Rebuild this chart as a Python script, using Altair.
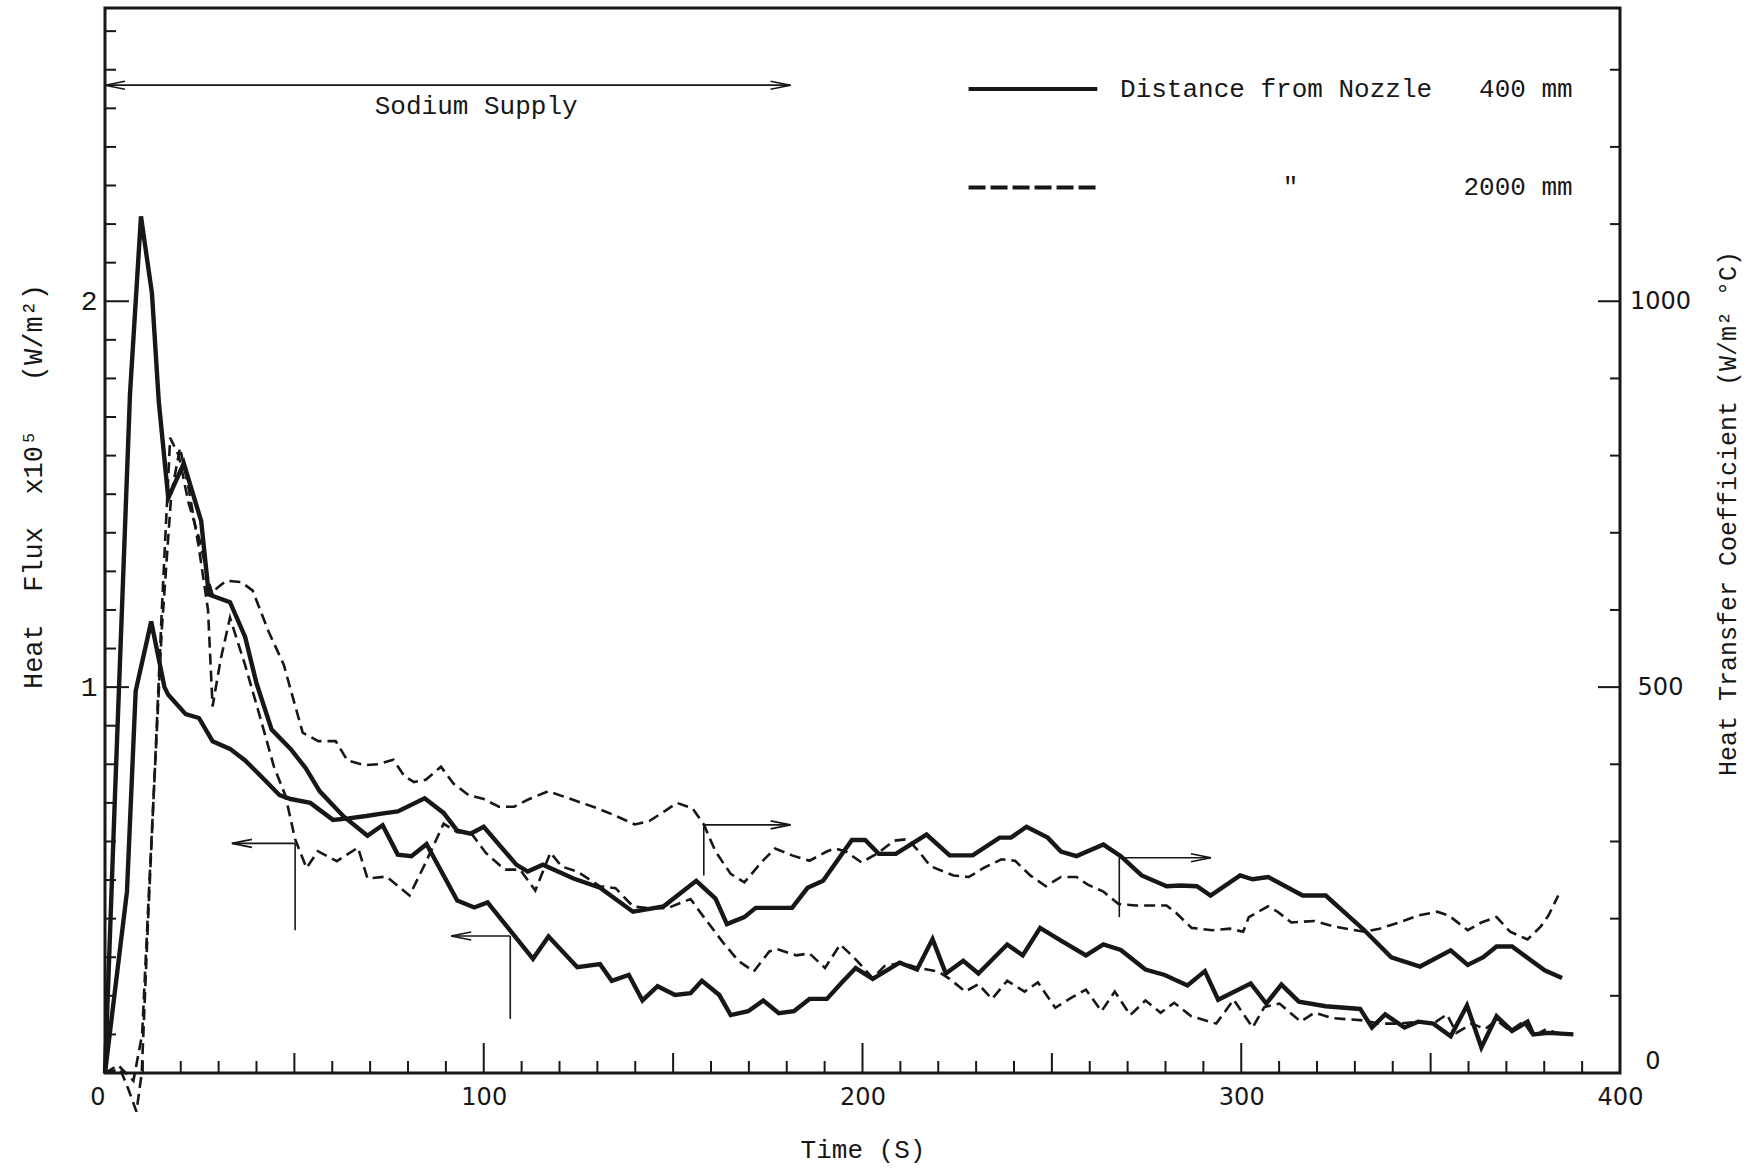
import altair as alt
import pandas as pd

# ---------------------------------------------------------------- data
# 400 mm from nozzle - heat flux (x10^5 W/m2)
T_Q400 = [0, 2.6, 6.6, 9.5, 12.4, 14.2, 16.7, 20.8, 25.4, 27.4, 33.0, 37.0, 40.0, 44.0, 49.0,
          53.0, 56.7, 63.0, 69.3, 73.3, 77.3, 80.9, 84.9, 93.0, 97.5, 101.0, 113.0, 117.1, 124.7,
          130.7, 133.8, 138.3, 141.9, 145.9, 150.5, 154.6, 157.6, 162.2, 165.2, 169.8, 173.8,
          177.9, 181.9, 186.0, 190.6, 194.6, 198.2, 202.7, 209.8, 214.4, 218.5, 222.0, 226.6,
          230.6, 238.2, 242.3, 246.9, 252.4, 259.0, 263.6, 268.2, 274.7, 279.8, 285.8, 290.4,
          293.9, 302.5, 306.6, 310.6, 315.2, 322.3, 331.4, 334.5, 338.0, 343.1, 346.7, 350.7,
          355.3, 359.6, 363.4, 367.4, 371.5, 375.6, 377.1, 381.1, 387.7]
Q_400 = [0, 0.71, 1.76, 2.22, 2.02, 1.74, 1.49, 1.58, 1.43, 1.24, 1.22, 1.13, 1.01, 0.89, 0.84,
         0.79, 0.73, 0.665, 0.615, 0.642, 0.566, 0.562, 0.593, 0.447, 0.429, 0.442, 0.296, 0.354,
         0.274, 0.282, 0.239, 0.254, 0.188, 0.225, 0.202, 0.207, 0.239, 0.202, 0.150, 0.160,
         0.188, 0.155, 0.160, 0.192, 0.192, 0.235, 0.272, 0.244, 0.286, 0.268, 0.347, 0.258,
         0.291, 0.258, 0.333, 0.305, 0.376, 0.343, 0.305, 0.333, 0.319, 0.268, 0.254, 0.227,
         0.264, 0.190, 0.232, 0.180, 0.229, 0.185, 0.173, 0.166, 0.118, 0.152, 0.118, 0.133,
         0.128, 0.095, 0.175, 0.066, 0.147, 0.109, 0.133, 0.100, 0.104, 0.100]

# 400 mm from nozzle - heat transfer coefficient (W/m2 C)
T_H400 = [0, 5.8, 8.1, 12.2, 15.7, 16.7, 21.3, 24.8, 28.4, 33.0, 37.0, 41.1, 46.1, 49.0, 54.2,
          60.2, 64.3, 69.0, 73.0, 77.3, 84.4, 89.4, 93.0, 96.5, 100.0, 108.6, 111.6, 115.6, 123.7,
          130.7, 139.4, 147.5, 156.1, 161.2, 164.2, 168.8, 171.8, 181.4, 185.5, 189.6, 197.2,
          200.7, 204.3, 208.8, 216.9, 223.0, 229.1, 236.2, 239.2, 243.3, 248.9, 252.4, 256.5,
          263.6, 268.2, 273.7, 280.3, 284.0, 288.3, 291.9, 299.7, 303.0, 307.1, 316.2, 322.3,
          332.5, 339.6, 347.2, 355.3, 359.8, 363.9, 367.4, 371.5, 380.1, 384.7]
H_400 = [0, 235, 495, 585, 500, 490, 465, 460, 430, 420, 405, 385, 360, 355, 350,
         328, 330, 333, 336, 339, 356, 337, 314, 310, 319, 270, 261, 270, 252,
         240, 209, 216, 249, 226, 193, 202, 214, 214, 240, 249, 302,
         302, 284, 284, 309, 282, 282, 305, 305, 319, 305, 287, 281,
         296, 281, 256, 242, 243, 242, 230, 256, 251, 254, 230, 230,
         185, 150, 138, 159, 140, 150, 164, 164, 133, 123]

# 2000 mm from nozzle - heat flux (x10^5 W/m2)
T_Q2000 = [0, 4.0, 6.1, 8.3, 9.7, 11.3, 12.9, 15.0, 17.5, 19.8, 22.0, 24.8, 27.2, 28.4, 30.5,
           33.0, 37.0, 41.1, 44.6, 47.6, 50.2, 53.2, 56.2, 61.2, 66.8, 69.3, 74.3, 80.4, 84.4,
           89.4, 93.0, 96.5, 100.5, 105.5, 109.6, 113.6, 117.6, 120.6, 124.7, 130.7, 134.8,
           139.4, 143.9, 148.5, 154.6, 158.1, 163.2, 167.2, 171.3, 175.4, 177.4, 182.5, 186.0,
           190.1, 194.1, 197.7, 202.7, 205.8, 210.3, 214.9, 220.0, 223.0, 227.1, 230.6, 234.2,
           238.2, 242.8, 246.3, 250.9, 255.5, 259.0, 263.1, 266.6, 270.7, 274.7, 278.7, 282.3,
           286.8, 293.4, 298.0, 303.0, 306.1, 310.1, 315.7, 319.3, 324.3, 331.4, 336.5, 341.6,
           346.7, 350.7, 354.3, 356.8, 360.9, 364.4, 367.4, 371.0, 374.5, 377.1, 380.6, 383.2,
           387.2]
Q_2000 = [0, 0.01, -0.04, -0.10, 0.0, 0.38, 0.73, 1.15, 1.50, 1.62, 1.52, 1.36, 1.20, 0.95, 1.07,
          1.18, 1.057, 0.917, 0.794, 0.72, 0.606, 0.531, 0.575, 0.549, 0.584, 0.504, 0.509, 0.46,
          0.54, 0.646, 0.624, 0.624, 0.571, 0.527, 0.527, 0.473, 0.571, 0.535, 0.522, 0.484,
          0.479, 0.432, 0.427, 0.427, 0.451, 0.404, 0.338, 0.291, 0.263, 0.315, 0.321, 0.305,
          0.31, 0.272, 0.333, 0.30, 0.246, 0.277, 0.286, 0.272, 0.263, 0.244, 0.211, 0.23, 0.192,
          0.239, 0.211, 0.235, 0.169, 0.197, 0.216, 0.16, 0.211, 0.15, 0.188, 0.156, 0.182,
          0.147, 0.128, 0.19, 0.118, 0.171, 0.18, 0.133, 0.156, 0.142, 0.137, 0.128, 0.128,
          0.133, 0.128, 0.152, 0.104, 0.128, 0.114, 0.137, 0.109, 0.133, 0.095, 0.114, 0.104,
          0.10]

# 2000 mm from nozzle - heat transfer coefficient (W/m2 C)
T_H2000 = [0, 3.5, 7.5, 9.8, 11.5, 13.0, 15.0, 17.2, 19.5, 22.0, 25.0, 27.5, 28.4, 29.5, 32.0,
           36.0, 39.0, 43.1, 47.2, 50.2, 52.2, 56.3, 60.9, 64.0, 68.5, 72.0, 76.1, 79.0, 81.6,
           84.7, 88.7, 92.0, 96.0, 100.0, 104.0, 108.0, 112.0, 117.0, 123.0, 130.0, 134.0,
           139.9, 143.9, 148.0, 151.0, 155.1, 158.1, 161.2, 165.2, 168.8, 173.3, 176.9, 181.4,
           186.0, 190.6, 192.6, 195.6, 199.7, 203.8, 208.3, 211.9, 214.9, 217.9, 224.0, 228.1,
           232.1, 236.7, 240.3, 244.3, 248.4, 252.4, 256.5, 259.5, 263.6, 267.6, 272.2, 280.3,
           282.9, 286.9, 292.4, 297.0, 300.5, 302.0, 307.1, 309.6, 313.2, 319.3, 324.3, 332.5,
           336.5, 341.6, 346.7, 351.7, 354.8, 359.8, 363.4, 367.4, 371.0, 375.6, 379.1, 381.1,
           383.7]
H_2000 = [0, 10, -10, 50, 225, 375, 600, 823, 800, 740, 690, 635, 620, 628, 638,
          636, 625, 573, 529, 476, 441, 430, 430, 405, 399, 400, 406, 385, 377,
          380, 397, 375, 360, 355, 345, 345, 355, 365, 355, 343, 335,
          322, 327, 340, 350, 343, 322, 287, 258, 247, 273, 291, 282,
          275, 287, 291, 287, 273, 284, 301, 303, 287, 268, 256, 254,
          266, 277, 275, 256, 242, 254, 254, 244, 235, 219, 217, 217,
          207, 188, 185, 187, 183, 202, 216, 209, 195, 197, 190, 183,
          187, 195, 204, 209, 204, 185, 195, 202, 183, 173, 190, 204,
          230]

# axis labels and tick positions
X_LABELS = [0, 100, 200, 300, 400]
Q_LABELS = [1, 2]
H_LABELS = [0, 500, 1000]
X_TICKS_MINOR = [t for t in range(10, 400, 10) if t % 50]
X_TICKS_MID = [50, 150, 250, 350]
X_TICKS_MAJOR = [100, 200, 300]
Q_TICKS_MINOR = [i / 10 for i in range(1, 28) if i % 10]
Q_TICKS_MAJOR = [1, 2]
H_TICKS_MINOR = [100, 200, 300, 400, 600, 700, 800, 900, 1100, 1200, 1300]
H_TICKS_MAJOR = [500, 1000]

# sodium supply period and pointer arrows (time s, heat-flux units)
SEG_T0 = [0, 33.5, 50.2, 91.4, 107.0, 158.1, 158.1, 267.8, 267.8]
SEG_T1 = [181, 50.2, 50.2, 107.0, 107.0, 181.0, 158.1, 292.0, 267.8]
SEG_Y0 = [2.56, 0.595, 0.595, 0.355, 0.355, 0.643, 0.643, 0.558, 0.558]
SEG_Y1 = [2.56, 0.595, 0.37, 0.355, 0.14, 0.643, 0.512, 0.558, 0.404]
HEAD_T = [0, 181, 33.5, 91.4, 181.0, 292.0]
HEAD_Y = [2.56, 2.56, 0.595, 0.355, 0.643, 0.558]
HEAD_ANGLE = [180, 0, 180, 180, 0, 0]

# legend
LEG_T0, LEG_T1 = 228, 262
LEG_Y = [2.55, 2.295]
LEG_TEXT_LEFT = ["Distance from Nozzle"]
LEG_TEXT_RIGHT = ["400 mm", "2000 mm"]

# ---------------------------------------------------------------- style
W, H = 1515, 1065
INK = "#171717"
MONO = "Liberation Mono"
SANS = "DejaVu Sans"
NB = "\u00a0"     # non-breaking space keeps wide typewriter gaps in SVG text
Q_TOP = 2.76      # heat flux at top of frame (x10^5 W/m2)
H_TOP = 1380      # coefficient at top of frame (W/m2 C)

xs = alt.Scale(domain=[0, 400], nice=False, zero=False)


def qs():
    return alt.Scale(domain=[0, Q_TOP], nice=False, zero=False)


def hs():
    return alt.Scale(domain=[0, H_TOP], nice=False, zero=False)


# the zero labels sit a little off their ticks, as typed on the original sheet
x_axis = alt.Axis(
    values=X_LABELS, format="d", title="Time (S)", ticks=False, domain=False,
    grid=False, labelFont=SANS, labelFontSize=24, labelColor=INK, labelPadding=12,
    labelFlush=False, labelAngle=0,
    labelAlign={"condition": {"test": "datum.value === 0", "value": "right"}, "value": "center"},
    titleFont=MONO, titleFontSize=26, titleFontWeight="normal", titleColor=INK,
    titlePadding=27,
)
q_axis = alt.Axis(
    values=Q_LABELS, format="d", orient="left", ticks=False, domain=False,
    grid=False, labelFont=MONO, labelFontSize=28, labelColor=INK, labelPadding=8,
    title="Heat" + NB * 2 + "Flux" + NB * 2 + "x10⁵" + NB * 3 + "(W/m²)",
    titleFont=MONO, titleFontSize=27,
    titleFontWeight="normal", titleColor=INK, titleAngle=270, titleX=-72, titleY=478,
    titleAlign="center", titleBaseline="middle",
)
h_axis = alt.Axis(
    values=H_LABELS, format="d", orient="right", ticks=False, domain=False,
    grid=False, labelFont=SANS, labelFontSize=24, labelColor=INK,
    labelAlign={"condition": {"test": "datum.value === 0", "value": "right"}, "value": "center"},
    labelPadding=40,
    labelBaseline={"condition": {"test": "datum.value === 0", "value": "bottom"}, "value": "middle"},
    title="Heat Transfer Coefficient (W/m² °C)", titleFont=MONO, titleFontSize=25,
    titleFontWeight="normal", titleColor=INK, titleAngle=270, titleX=107, titleY=505,
    titleAlign="center", titleBaseline="middle",
)


def curve(t, v, yscale, dash=None, width=4.2, yaxis=None):
    df = pd.DataFrame({"t": t, "v": v})
    mk = {"color": INK, "strokeWidth": width}
    if dash:
        mk["strokeDash"] = dash
    return alt.Chart(df).mark_line(**mk).encode(
        x=alt.X("t:Q", scale=xs, axis=None),
        y=alt.Y("v:Q", scale=yscale, axis=yaxis),
    )


def x_ticks(vals, length, axis=None):
    return alt.Chart(pd.DataFrame({"t": vals})).mark_rule(color=INK, strokeWidth=2).encode(
        x=alt.X("t:Q", scale=xs, axis=axis), y=alt.value(H), y2=alt.value(H - length))


def y_ticks(vals, yscale, length, right=False):
    x0 = W if right else 0
    x1 = W - length if right else length
    return alt.Chart(pd.DataFrame({"v": vals})).mark_rule(color=INK, strokeWidth=2).encode(
        y=alt.Y("v:Q", scale=yscale, axis=None), x=alt.value(x0), x2=alt.value(x1))


def label(t, v, text, align):
    df = pd.DataFrame({"t": t, "v": v, "s": text})
    return alt.Chart(df).mark_text(
        font=MONO, fontSize=26, color=INK, align=align, baseline="middle").encode(
        x=alt.X("t:Q", scale=xs, axis=None), y=alt.Y("v:Q", scale=qs(), axis=None), text="s:N")


segs = pd.DataFrame({"t0": SEG_T0, "t1": SEG_T1, "y0": SEG_Y0, "y1": SEG_Y1})
seg_layer = alt.Chart(segs).mark_rule(color=INK, strokeWidth=1.6).encode(
    x=alt.X("t0:Q", scale=xs, axis=None), x2="t1:Q",
    y=alt.Y("y0:Q", scale=qs(), axis=None), y2="y1:Q")

heads = pd.DataFrame({"t": HEAD_T, "v": HEAD_Y, "ang": HEAD_ANGLE})
head_layer = alt.Chart(heads).mark_point(
    shape="M-2,-0.4L0,0L-2,0.4", size=400, filled=False, color=INK, strokeWidth=1.6,
    opacity=1).encode(
    x=alt.X("t:Q", scale=xs, axis=None), y=alt.Y("v:Q", scale=qs(), axis=None),
    angle=alt.Angle("ang:Q", scale=None))

leg_df = pd.DataFrame({"t0": [LEG_T0, LEG_T0], "t1": [LEG_T1, LEG_T1], "v": LEG_Y,
                       "kind": ["solid", "dashed"]})
leg_solid = alt.Chart(leg_df).transform_filter("datum.kind == 'solid'").mark_rule(
    color=INK, strokeWidth=4).encode(
    x=alt.X("t0:Q", scale=xs, axis=None), x2="t1:Q", y=alt.Y("v:Q", scale=qs(), axis=None))
leg_dash = alt.Chart(leg_df).transform_filter("datum.kind == 'dashed'").mark_rule(
    color=INK, strokeWidth=4, strokeDash=[17, 5]).encode(
    x=alt.X("t0:Q", scale=xs, axis=None), x2="t1:Q", y=alt.Y("v:Q", scale=qs(), axis=None))

# the major time ticks carry the time axis labels and title
layers = [
    x_ticks(X_TICKS_MAJOR, 30, axis=x_axis),
    x_ticks(X_TICKS_MINOR, 12), x_ticks(X_TICKS_MID, 20),
    curve(T_Q400, Q_400, qs(), width=4.4, yaxis=q_axis),
    curve(T_H400, H_400, hs(), width=4.4, yaxis=h_axis),
    curve(T_Q2000, Q_2000, qs(), dash=[11, 6], width=2.6),
    curve(T_H2000, H_2000, hs(), dash=[11, 6], width=2.6),
    y_ticks(Q_TICKS_MINOR, qs(), 11), y_ticks(Q_TICKS_MAJOR, qs(), 24),
    y_ticks(H_TICKS_MINOR, hs(), 10, right=True), y_ticks(H_TICKS_MAJOR, hs(), 22, right=True),
    seg_layer, head_layer,
    label([98], [2.505], ["Sodium Supply"], "center"),
    leg_solid, leg_dash,
    label([268], [LEG_Y[0]], LEG_TEXT_LEFT, "left"),
    label([313], [LEG_Y[1]], ['"'], "center"),
    label([387.5, 387.5], LEG_Y, LEG_TEXT_RIGHT, "right"),
]

chart = alt.layer(*layers).resolve_scale(y="independent").resolve_axis(x="independent").properties(
    width=W, height=H,
    padding={"left": 105, "top": 8, "right": 131, "bottom": 95},
    autosize=alt.AutoSizeParams(type="none"),
).configure(background="white").configure_view(stroke=INK, strokeWidth=3)

chart.save("out.html", embed_options={"renderer": "svg", "actions": False})
